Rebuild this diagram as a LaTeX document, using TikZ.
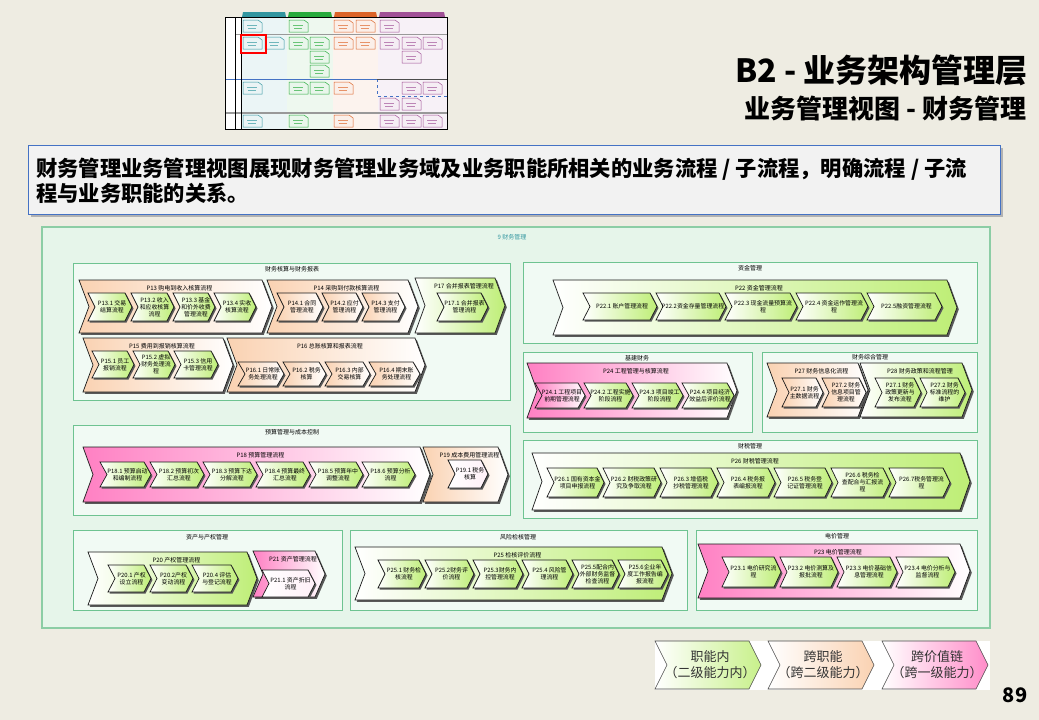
\documentclass[tikz,border=0pt]{standalone}
\usepackage{fontspec}
\setmainfont{Noto Sans CJK SC}
\usepackage{xcolor}
\usepackage{tikz}
\usetikzlibrary{calc}

\definecolor{pagebg}{RGB}{238,236,226}
\definecolor{pnlfill}{RGB}{230,245,234}
\definecolor{pnlline}{RGB}{140,205,165}
\definecolor{grpfill}{RGB}{241,250,244}
\definecolor{grpline}{RGB}{110,195,145}
\definecolor{chgreen}{RGB}{190,238,118}
\definecolor{chpeach}{RGB}{250,210,178}
\definecolor{chpink}{RGB}{255,128,195}
\definecolor{descline}{RGB}{68,114,196}
\definecolor{tteal}{RGB}{50,150,160}
\definecolor{tgreen}{RGB}{40,170,60}
\definecolor{torange}{RGB}{220,100,40}
\definecolor{tpurple}{RGB}{160,80,150}

% outer chevron: style, x1, y1, x2, y2, name, label
\newcommand\bigchev[7]{%
  \fill[black!65,shift={(1.8,1.8)}] (#2,#3) -- ({#4-10},#3) -- (#4,{(#3+#5)/2}) -- ({#4-10},#5) -- (#2,#5) -- ({#2+10},{(#3+#5)/2}) -- cycle;
  \draw[chv,#1] (#2,#3) -- ({#4-10},#3) -- (#4,{(#3+#5)/2}) -- ({#4-10},#5) -- (#2,#5) -- ({#2+10},{(#3+#5)/2}) -- cycle;
  \node[biglbl] (#6) at ({(#2+#4)/2+4},{#3+8}) {#7};}
% inner chevron: style, x1, y1, x2, y2, name, label
\newcommand\subchev[7]{%
  \fill[black!65,shift={(1.5,1.5)}] (#2,#3) -- ({#4-7},#3) -- (#4,{(#3+#5)/2}) -- ({#4-7},#5) -- (#2,#5) -- ({#2+7},{(#3+#5)/2}) -- cycle;
  \draw[chv,#1] (#2,#3) -- ({#4-7},#3) -- (#4,{(#3+#5)/2}) -- ({#4-7},#5) -- (#2,#5) -- ({#2+7},{(#3+#5)/2}) -- cycle;
  \node[sublbl] (#6) at ({(#2+#4)/2+2},{(#3+#5)/2}) {#7};}
% thumbnail document icon: x, y, colour
\newcommand\docic[3]{%
  \draw[#3, fill=#3!10, line width=0.5pt] (#1,#2) -- ({#1+15},#2) -- ({#1+19},{#2+3}) -- ({#1+19},{#2+12}) -- (#1,{#2+12}) -- cycle;
  \draw[#3!70, line width=0.4pt] ({#1+4},{#2+5}) -- ({#1+14},{#2+5}) ({#1+5},{#2+8}) -- ({#1+13},{#2+8});}

\begin{document}
\begin{tikzpicture}[x=1pt, y=-1pt]
  \tikzset{chv/.style={draw=black!90, line width=0.7pt},
    gch/.style={left color=white, right color=chgreen},
    pch/.style={left color=chpeach, right color=white},
    kch/.style={left color=chpink, right color=white},
    wch/.style={left color=white, right color=chpink!12},
    grp/.style={draw=grpline, fill=grpfill, line width=0.9pt},
    grplbl/.style={font=\fontsize{6}{7}\selectfont, inner sep=0pt},
    biglbl/.style={font=\fontsize{6}{7}\selectfont, inner sep=0pt},
    sublbl/.style={font=\fontsize{5.9}{6.8}\selectfont, align=center, inner sep=0pt},
    legchev/.style={draw=black!70, line width=0.6pt},
    leglbl/.style={font=\fontsize{13}{16}\selectfont, align=center, text=black!80, inner sep=0pt}}
  \useasboundingbox (0,0) rectangle (1039,720);
  \fill[pagebg] (0,0) rectangle (1039,720);

  % thumbnail of the whole architecture
  \fill[white] (225,17) rectangle (447,129);
  \fill[tteal!10] (241,17) rectangle (287,129);
  \fill[tgreen!8] (287,17) rectangle (333,129);
  \fill[torange!8] (333,17) rectangle (378,129);
  \fill[tpurple!8] (378,17) rectangle (447,129);
  \fill[tteal] (242,17) -- (243,12) -- (285,12) -- (286,17) -- cycle;
  \fill[tgreen] (288,17) -- (289,12) -- (331,12) -- (332,17) -- cycle;
  \fill[torange] (334,17) -- (335,12) -- (376,12) -- (377,17) -- cycle;
  \fill[tpurple] (379,17) -- (380,12) -- (444,12) -- (445,17) -- cycle;
  \draw[black!40, line width=0.6pt] (235,34) -- (447,34);
  \draw[black!40, line width=1.2pt] (225,113) -- (447,113);
  \draw[descline, line width=0.7pt] (225,79) -- (377,79);
  \draw[descline, dashed, line width=0.6pt] (377,79) -- (377,96) -- (447,96);
  \draw[black!70, line width=0.6pt] (377,79) -- (447,79);
  \draw[black, line width=0.6pt] (235,17) -- (235,129) (241,17) -- (241,129);
  \draw[black, line width=1pt] (225,17) rectangle (447,129);
  \foreach \x/\y/\c in {243/20/tteal, 289/20/tgreen, 334/20/torange, 356/20/torange, 380/20/tpurple,
      243/37/tteal, 265/37/tteal, 289/37/tgreen, 310/37/tgreen, 334/37/torange, 356/37/torange,
      380/37/tpurple, 402/37/tpurple, 423/37/tpurple, 310/51/tgreen, 402/51/tpurple, 310/65/tgreen,
      243/82/tteal, 289/82/tgreen, 310/82/tgreen, 334/82/torange, 402/82/tpurple, 423/82/tpurple,
      380/98/tpurple, 402/98/tpurple, 243/115/tteal, 289/115/tgreen, 334/115/torange,
      380/115/tpurple, 402/115/tpurple, 423/115/tpurple}
    \docic{\x}{\y}{\c};
  \draw[red, line width=1.8pt] (241,35) rectangle (266,53);

  % titles
  \node[anchor=east, inner sep=0pt, font=\fontsize{32}{36}\bfseries] (title) at (1028,70) {B2 - 业务架构管理层};
  \node[anchor=east, inner sep=0pt, font=\fontsize{26}{28}\bfseries] (subtitle) at (1027,109) {业务管理视图 - 财务管理};

  % description box
  \fill[black!30] (31,148) rectangle (1003,217);
  \draw[descline, fill=black!5, line width=1pt] (28,145) rectangle (1000,214);
  \node[anchor=north west, align=left, inner sep=0pt, font=\fontsize{21.3}{25}\bfseries] (desc) at (36,158)
    {财务管理业务管理视图展现财务管理业务域及业务职能所相关的业务流程 / 子流程，明确流程 / 子流\\程与业务职能的关系。};

  % main panel
  \draw[draw=pnlline, fill=pnlfill, line width=1.5pt] (42,227) rectangle (990,628);
  \node[font=\fontsize{6}{7}\selectfont, text=tteal, inner sep=0pt] (pnl) at (512,237) {9 财务管理};

  % 财务核算与财务报表
  \draw[grp] (73,263) rectangle (510,400);
  \node[grplbl] (gacct) at (292,269) {财务核算与财务报表};
  \bigchev{pch}{79}{280}{272}{333}{p13}{P13 购电到收入核算流程}
  \subchev{gch}{88}{293}{132}{321}{p131}{P13.1 交易\\结算流程}
  \subchev{gch}{131}{293}{174}{321}{p132}{P13.2 收入\\和应收核算\\流程}
  \subchev{gch}{173}{293}{215}{321}{p133}{P13.3 基金\\和价外收费\\管理流程}
  \subchev{gch}{214}{293}{256}{321}{p134}{P13.4 实收\\核算流程}
  \bigchev{pch}{267}{280}{418}{333}{p14}{P14 采购到付款核算流程}
  \subchev{pch}{277}{293}{323}{321}{p141}{P14.1 合同\\管理流程}
  \subchev{pch}{322}{293}{363}{321}{p142}{P14.2 应付\\管理流程}
  \subchev{pch}{362}{293}{405}{321}{p143}{P14.3 支付\\管理流程}
  \bigchev{gch}{415}{278}{505}{333}{p17}{P17 合并报表管理流程}
  \subchev{gch}{437}{293}{488}{321}{p171}{P17.1 合并报表\\管理流程}
  \bigchev{pch}{83}{338}{233}{392}{p15}{P15 费用到报销核算流程}
  \subchev{gch}{92}{351}{134}{378}{p151}{P15.1 员工\\报销流程}
  \subchev{gch}{133}{351}{175}{378}{p152}{P15.2 虚拟\\财务处理流\\程}
  \subchev{gch}{174}{351}{218}{378}{p153}{P15.3 信用\\卡管理流程}
  \bigchev{pch}{227}{338}{425}{392}{p16}{P16 总账核算和报表流程}
  \subchev{pch}{238}{362}{284}{386}{p161}{P16.1 日常账\\务处理流程}
  \subchev{pch}{283}{362}{326}{386}{p162}{P16.2 税务\\核算}
  \subchev{pch}{325}{362}{370}{386}{p163}{P16.3 内部\\交易核算}
  \subchev{pch}{369}{362}{420}{386}{p164}{P16.4 期末账\\务处理流程}

  % 预算管理与成本控制
  \draw[grp] (73,425) rectangle (510,515);
  \node[grplbl] (gbudget) at (292,432) {预算管理与成本控制};
  \bigchev{kch}{83}{447}{430}{502}{p18}{P18 预算管理流程}
  \subchev{gch}{100}{462}{151}{487}{p181}{P18.1 预算启动\\和编制流程}
  \subchev{gch}{150}{462}{204}{487}{p182}{P18.2 预算初次\\汇总流程}
  \subchev{gch}{203}{462}{257}{487}{p183}{P18.3 预算下达\\分解流程}
  \subchev{gch}{256}{462}{310}{487}{p184}{P18.4 预算最终\\汇总流程}
  \subchev{gch}{309}{462}{363}{487}{p185}{P18.5 预算年中\\调整流程}
  \subchev{gch}{362}{462}{415}{487}{p186}{P18.6 预算分析\\流程}
  \bigchev{pch}{423}{447}{508}{502}{p19}{P19 成本费用管理流程}
  \subchev{wch}{448}{460}{488}{488}{p191}{P19.1 税务\\核算}

  % 资产与产权管理
  \draw[grp] (73,530) rectangle (342,610);
  \node[grplbl] (gasset) at (207,537) {资产与产权管理};
  \bigchev{gch}{88}{552}{257}{605}{p20}{P20 产权管理流程}
  \subchev{gch}{108}{565}{151}{592}{p201}{P20.1 产权\\设立流程}
  \subchev{gch}{150}{565}{193}{592}{p202}{P20.2产权\\变动流程}
  \subchev{gch}{192}{565}{238}{592}{p204}{P20.4 评估\\与登记流程}
  \bigchev{kch}{253}{551}{325}{597}{p21}{P21 资产管理流程}
  \subchev{wch}{262}{570}{315}{597}{p211}{P21.1 资产折旧\\流程}

  % 风险检核管理
  \draw[grp] (350,530) rectangle (687,610);
  \node[grplbl] (grisk) at (518,537) {风险检核管理};
  \bigchev{gch}{355}{547}{672}{600}{p25}{P25 检核评价流程}
  \subchev{gch}{378}{560}{426}{588}{p251}{P25.1 财务检\\核流程}
  \subchev{gch}{425}{560}{474}{588}{p252}{P25.2财务评\\价流程}
  \subchev{gch}{473}{560}{523}{588}{p253}{P25.3财务内\\控管理流程}
  \subchev{gch}{522}{560}{573}{588}{p254}{P25.4 风险管\\理流程}
  \subchev{gch}{572}{560}{619}{588}{p255}{P25.5配合内\\外部财务监督\\检查流程}
  \subchev{gch}{618}{560}{668}{588}{p256}{P25.6企业年\\度工作报告编\\报流程}

  % 资金管理
  \draw[grp] (523,262) rectangle (977,343);
  \node[grplbl] (gfund) at (750,268) {资金管理};
  \bigchev{gch}{553}{280}{957}{335}{p22}{P22 资金管理流程}
  \subchev{gch}{583}{293}{657}{320}{p221}{P22.1 账户管理流程}
  \subchev{gch}{656}{293}{726}{320}{p222}{P22.2资金存量管理流程}
  \subchev{gch}{725}{293}{797}{320}{p223}{P22.3 现金流量预算流\\程}
  \subchev{gch}{796}{293}{868}{320}{p224}{P22.4 资金运作管理流\\程}
  \subchev{gch}{867}{293}{942}{320}{p225}{P22.5融资管理流程}

  % 基建财务
  \draw[grp] (523,352) rectangle (752,432);
  \node[grplbl] (gbuild) at (637,358) {基建财务};
  \bigchev{kch}{527}{363}{737}{418}{p24}{P24 工程管理与核算流程}
  \subchev{kch}{535}{383}{585}{408}{p241}{P24.1 工程项目\\前期管理流程}
  \subchev{gch}{584}{383}{633}{408}{p242}{P24.2 工程实施\\阶段流程}
  \subchev{gch}{632}{383}{683}{408}{p243}{P24.3 项目竣工\\阶段流程}
  \subchev{gch}{682}{383}{734}{408}{p244}{P24.4 项目经济\\效益后评价流程}

  % 财务综合管理
  \draw[grp] (762,352) rectangle (977,432);
  \node[grplbl] (gsynth) at (870,357) {财务综合管理};
  \bigchev{pch}{767}{363}{868}{417}{p27}{P27 财务信息化流程}
  \subchev{pch}{782}{378}{823}{407}{p271}{P27.1 财务\\主数据流程}
  \subchev{pch}{822}{378}{866}{407}{p272}{P27.2 财务\\信息项目管\\理流程}
  \bigchev{gch}{860}{363}{972}{417}{p28}{P28 财务政策和流程管理}
  \subchev{gch}{875}{378}{921}{407}{p281}{P27.1 财务\\政策更新与\\发布流程}
  \subchev{gch}{920}{378}{965}{407}{p282}{P27.2 财务\\标准流程的\\维护}

  % 财税管理
  \draw[grp] (523,440) rectangle (977,518);
  \node[grplbl] (gtax) at (750,446) {财税管理};
  \bigchev{gch}{532}{453}{970}{510}{p26}{P26 财税管理流程}
  \subchev{gch}{547}{468}{604}{497}{p261}{P26.1 国有资本金\\项目申报流程}
  \subchev{gch}{603}{468}{661}{497}{p262}{P26.2 财税政策研\\究及争取流程}
  \subchev{gch}{660}{468}{718}{497}{p263}{P26.3 增值税\\抄税管理流程}
  \subchev{gch}{717}{468}{775}{497}{p264}{P26.4 税务报\\表编报流程}
  \subchev{gch}{774}{468}{832}{497}{p265}{P26.5 税务登\\记证管理流程}
  \subchev{gch}{831}{468}{890}{497}{p266}{P26.6 税务检\\查配合与汇报流\\程}
  \subchev{gch}{889}{468}{950}{497}{p267}{P26.7税务管理流\\程}

  % 电价管理
  \draw[grp] (696,530) rectangle (977,610);
  \node[grplbl] (gprice) at (837,536) {电价管理};
  \bigchev{kch}{698}{544}{970}{598}{p23}{P23 电价管理流程}
  \subchev{gch}{722}{557}{781}{587}{p231}{P23.1 电价研究流\\程}
  \subchev{gch}{780}{557}{838}{587}{p232}{P23.2 电价测算及\\报批流程}
  \subchev{gch}{837}{557}{897}{587}{p233}{P23.3 电价基础信\\息管理流程}
  \subchev{gch}{896}{557}{955}{587}{p234}{P23.4 电价分析与\\监督流程}

  % legend
  \fill[white] (655,641) rectangle (990,690);
  \draw[legchev, left color=white, right color=chgreen!85] (655,641) -- (749,641) -- (761,665) -- (749,689) -- (655,689) -- (667,665) -- cycle;
  \draw[legchev, left color=white, right color=chpeach] (768,641) -- (862,641) -- (874,665) -- (862,689) -- (768,689) -- (780,665) -- cycle;
  \draw[legchev, left color=white, right color=chpink!90] (882,641) -- (976,641) -- (988,665) -- (976,689) -- (882,689) -- (894,665) -- cycle;
  \node[leglbl] (lgin) at (710,665) {职能内\\（二级能力内）};
  \node[leglbl] (lgcross) at (823,665) {跨职能\\（跨二级能力）};
  \node[leglbl] (lgchain) at (937,665) {跨价值链\\（跨一级能力）};
  \node[font=\fontsize{20}{22}\bfseries, inner sep=0pt] (pgno) at (1015,695) {89};
\end{tikzpicture}
\end{document}
